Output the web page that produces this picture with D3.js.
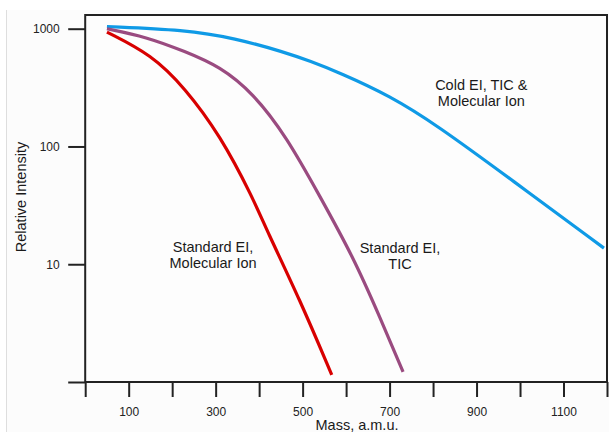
<!DOCTYPE html>
<html>
<head>
<meta charset="utf-8">
<script src="https://cdn.jsdelivr.net/npm/d3@7"></script>
<style>
  html, body { margin: 0; padding: 0; background: #ffffff; }
  svg { display: block; font-family: "Liberation Sans", Arial, sans-serif; }
</style>
</head>
<body>
<svg id="chart" width="609" height="432"></svg>
<script>
// ---- data ----
const redMass = [50, 153, 229, 310, 386, 417, 494, 567];
const redValues = [935, 600, 315, 125, 36.4, 19.6, 4.97, 1.15];

const purpleMass = [50, 140, 230, 310, 386, 463, 540, 616, 678, 731];
const purpleValues = [998, 853, 640, 477, 284, 121, 37.5, 11.6, 3.53, 1.22];

const blueMass = [50, 229, 344, 459, 517, 586, 701, 808, 981, 1193];
const blueValues = [1044, 979, 832, 631, 531, 422, 269, 152.6, 52.0, 13.7];

const xTicks = [0, 100, 200, 300, 400, 500, 600, 700, 800, 900, 1000, 1100, 1200];
const xTickLabels = ["", "100", "", "300", "", "500", "", "700", "", "900", "", "1100", ""];
const yTicks = [1, 10, 100, 1000];
const yTickLabels = ["", "10", "100", "1000"];

const seriesLabels = [
  { lines: ["Cold EI, TIC &", "Molecular Ion"], mass: 911, value: 303 },
  { lines: ["Standard EI,", "TIC"], mass: 724, value: 12.4 },
  { lines: ["Standard EI,", "Molecular Ion"], mass: 294, value: 12.7 }
];

// ---- layout ----
(function () {
const svg = d3.select("#chart");
const W = 609, H = 432;
const mLeft = 85.2, mRight = 607, mTop = 15, mBottom = 382;

// background panel
svg.append("rect").attr("x", 6).attr("y", 10).attr("width", W - 6).attr("height", H - 10)
  .attr("fill", "#fcfcfc");
svg.append("line").attr("x1", 6.5).attr("x2", 6.5).attr("y1", 10).attr("y2", H)
  .attr("stroke", "#dedede").attr("stroke-width", 1);

const x = d3.scaleLinear().domain([0, 1200]).range([mLeft, mRight]);
const y = d3.scaleLog().domain([1, 1000]).range([mBottom, 28.7]);

// plot area
svg.append("rect").attr("x", mLeft).attr("y", mTop).attr("width", mRight - mLeft).attr("height", mBottom - mTop)
  .attr("fill", "#fdfdfd");

// axes
const xAxis = d3.axisBottom(x).tickValues(xTicks)
  .tickFormat((d, i) => xTickLabels[i]).tickSize(15).tickPadding(10);
const gx = svg.append("g").attr("transform", `translate(0,${mBottom})`).call(xAxis);
gx.select(".domain").remove();
gx.selectAll(".tick line").attr("stroke", "#222").attr("stroke-width", 2);
gx.selectAll(".tick text").attr("font-size", 12).attr("fill", "#222")
  .attr("font-family", "Liberation Sans, Arial, sans-serif");

const yAxis = d3.axisLeft(y).tickValues(yTicks)
  .tickFormat((d, i) => yTickLabels[i]).tickSize(17).tickPadding(8.5);
const gy = svg.append("g").attr("transform", `translate(${mLeft},0)`).call(yAxis);
gy.select(".domain").remove();
gy.selectAll(".tick line").attr("stroke", "#222").attr("stroke-width", 2);
gy.selectAll(".tick text").attr("font-size", 12).attr("fill", "#222")
  .attr("font-family", "Liberation Sans, Arial, sans-serif");

// frame
svg.append("rect").attr("x", mLeft).attr("y", mTop).attr("width", mRight - mLeft).attr("height", mBottom - mTop)
  .attr("fill", "none").attr("stroke", "#222").attr("stroke-width", 2);

// lines
const line = d3.line().x(d => x(d[0])).y(d => y(d[1])).curve(d3.curveBasis);
const series = [
  { mass: blueMass, values: blueValues, color: "#0f9ae6" },
  { mass: purpleMass, values: purpleValues, color: "#9a4b80" },
  { mass: redMass, values: redValues, color: "#d80000" }
];
series.forEach(s => {
  svg.append("path")
    .datum(s.mass.map((m, i) => [m, s.values[i]]))
    .attr("d", line)
    .attr("fill", "none")
    .attr("stroke", s.color)
    .attr("stroke-width", 3.2)
    .attr("stroke-linecap", "butt");
});

// series labels
seriesLabels.forEach(l => {
  const t = svg.append("text")
    .attr("x", x(l.mass)).attr("y", y(l.value))
    .attr("text-anchor", "middle").attr("font-size", 14.5).attr("fill", "#1a1a1a");
  l.lines.forEach((ln, i) => {
    t.append("tspan").attr("x", x(l.mass)).attr("dy", i === 0 ? 0 : 16).text(ln);
  });
});

// axis titles
svg.append("text").attr("x", 357).attr("y", 430).attr("text-anchor", "middle")
  .attr("font-size", 14.5).attr("fill", "#1a1a1a").text("Mass, a.m.u.");
svg.append("text").attr("transform", "translate(26,197) rotate(-90)")
  .attr("text-anchor", "middle").attr("font-size", 14.5).attr("fill", "#1a1a1a")
  .text("Relative Intensity");
})();
</script>
</body>
</html>
